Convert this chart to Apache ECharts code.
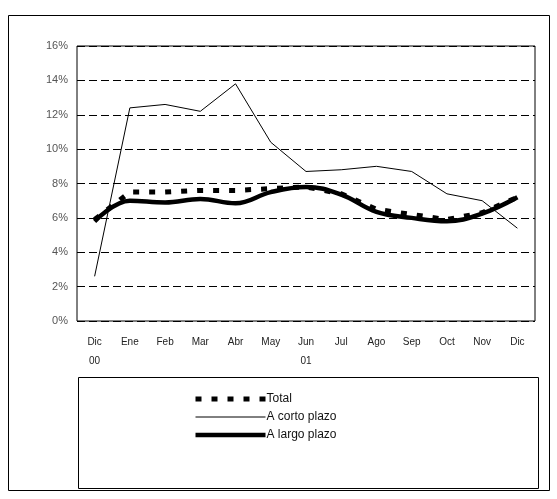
<!DOCTYPE html>
<html>
<head>
<meta charset="utf-8">
<script src="https://cdn.jsdelivr.net/npm/echarts@6/dist/echarts.min.js"></script>
<style>
  html, body { margin: 0; padding: 0; background: #fff; }
  #chart { width: 557px; height: 499px; }
</style>
</head>
<body>
<div id="chart"></div>
<script>
// meses de dic 2000 a dic 2001
const months = ['Dic\n00', 'Ene', 'Feb', 'Mar', 'Abr', 'May', 'Jun\n01', 'Jul', 'Ago', 'Sep', 'Oct', 'Nov', 'Dic']
const total = [5.9, 7.5, 7.5, 7.6, 7.6, 7.7, 7.8, 7.4, 6.5, 6.2, 5.9, 6.3, 7.2]
const cortoPlazo = [2.6, 12.4, 12.6, 12.2, 13.8, 10.4, 8.7, 8.8, 9.0, 8.7, 7.4, 7.0, 5.4]
const largoPlazo = [5.8, 7.0, 6.9, 7.1, 6.85, 7.5, 7.8, 7.35, 6.35, 6.0, 5.8, 6.25, 7.2]

const chart = echarts.init(document.getElementById('chart'))
chart.setOption({
  animation: false,
  textStyle: { fontFamily: 'Liberation Sans, Arial, sans-serif' },
  graphic: [
    // marco exterior
    { type: 'rect', shape: { x: 8.5, y: 15.5, width: 541, height: 475 },
      style: { fill: 'none', stroke: '#000', lineWidth: 1 } },
    // marco de la leyenda
    { type: 'rect', shape: { x: 78.5, y: 377.5, width: 460, height: 111 },
      style: { fill: 'none', stroke: '#000', lineWidth: 1 } }
  ],
  grid: {
    left: 77, right: 22, top: 46, bottom: 178,
    show: true, borderColor: '#000', borderWidth: 1
  },
  legend: {
    orient: 'vertical',
    left: 188,
    top: 388,
    itemWidth: 70,
    itemHeight: 8,
    itemGap: 6,
    textStyle: { fontSize: 12, color: '#111', padding: [0, 0, 0, -4] },
    data: [
      { name: 'Total', itemStyle: { opacity: 0 }, lineStyle: { width: 5 } },
      { name: 'A corto plazo', itemStyle: { opacity: 0 }, lineStyle: { width: 1 } },
      { name: 'A largo plazo', itemStyle: { opacity: 0 }, lineStyle: { width: 4.5 } }
    ]
  },
  xAxis: {
    type: 'category',
    data: months,
    boundaryGap: true,
    axisLine: { show: false },
    axisTick: { show: false },
    axisLabel: { color: '#222', fontSize: 10, margin: 12, lineHeight: 19, interval: 0,
      align: 'center', verticalAlign: 'top' }
  },
  yAxis: {
    type: 'value',
    min: 0, max: 16, interval: 2,
    axisLine: { show: false },
    axisTick: { show: false },
    axisLabel: { color: '#555', fontSize: 11, margin: 9, formatter: '{value}%' },
    splitLine: { lineStyle: { color: '#000', type: [8, 4], width: 1 } }
  },
  series: [
    {
      name: 'Total', type: 'line', data: total, symbol: 'none',
      lineStyle: { color: '#000', width: 5, type: [6, 10], cap: 'butt' },
      itemStyle: { color: '#000' }
    },
    {
      name: 'A corto plazo', type: 'line', data: cortoPlazo, symbol: 'none',
      lineStyle: { color: '#000', width: 1 },
      itemStyle: { color: '#000' }
    },
    {
      name: 'A largo plazo', type: 'line', data: largoPlazo, symbol: 'none', smooth: 0.4,
      lineStyle: { color: '#000', width: 4.5 },
      itemStyle: { color: '#000' }
    }
  ]
})
</script>
</body>
</html>
